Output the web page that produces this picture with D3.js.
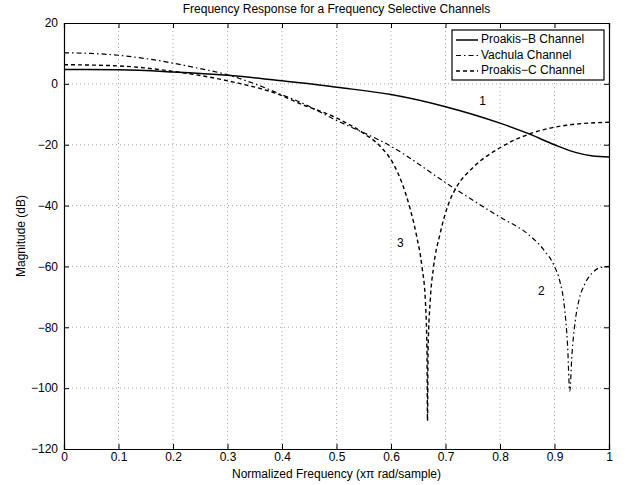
<!DOCTYPE html>
<html>
<head>
<meta charset="utf-8">
<script src="https://cdn.jsdelivr.net/npm/d3@7"></script>
<style>
  body { margin: 0; background: #fff; }
  svg { font-family: "Liberation Sans", Arial, sans-serif; }
</style>
</head>
<body>
<script>
'use strict';

// valores (freq normalizada, magnitude em dB)
const freqB = [0, 0.1, 0.2, 0.3, 0.4, 0.433, 0.5, 0.6, 0.7, 0.8, 0.85, 0.9, 0.94, 0.97, 1.0]
const magB  = [4.7, 4.6, 3.9, 2.8, 1.0, 0.4, -1.1, -3.5, -7.5, -12.9, -16.2, -20.0, -22.6, -23.7, -24.0]

const freqV = [0, 0.05, 0.1, 0.15, 0.2, 0.25, 0.3, 0.35, 0.4, 0.433, 0.5, 0.6, 0.708, 0.8, 0.85, 0.88, 0.9, 0.91, 0.918, 0.924, 0.928, 0.932, 0.938, 0.945, 0.955, 0.97, 0.985, 1.0]
const magV  = [10.2, 10.0, 9.4, 8.3, 6.8, 5.0, 3.0, 0.0, -3.6, -6.0, -12.0, -20.5, -33.4, -43.8, -49.2, -54.5, -60.0, -65.0, -73.0, -86.0, -101.0, -89.0, -78.0, -71.0, -66.0, -62.0, -60.3, -60.0]

const freqC = [0, 0.1, 0.2, 0.3, 0.4, 0.433, 0.5, 0.55, 0.58, 0.605, 0.62, 0.635, 0.647, 0.657, 0.663, 0.666, 0.667, 0.668, 0.672, 0.678, 0.69, 0.708, 0.72, 0.751, 0.8, 0.855, 0.922, 1.0]
const magC  = [6.3, 5.9, 4.1, 1.0, -3.9, -6.5, -11.2, -16.3, -20.5, -26.5, -32.5, -41.0, -50.0, -60.3, -71.2, -87.7, -110.7, -87.7, -71.2, -60.3, -49.3, -38.3, -34.0, -27.4, -21.0, -16.4, -13.6, -12.6]

const ticksX = [0, 0.1, 0.2, 0.3, 0.4, 0.5, 0.6, 0.7, 0.8, 0.9, 1]
const ticksY = [20, 0, -20, -40, -60, -80, -100, -120]

const nomesCanais = ['Proakis\u2212B Channel', 'Vachula Channel', 'Proakis\u2212C Channel']
const rotulosCurvas = [
    {texto: '1', f: 0.768, db: -6.0},
    {texto: '2', f: 0.876, db: -68.5},
    {texto: '3', f: 0.617, db: -52.5}
]

const largura = 630, altura = 485
const margem = {esq: 64, dir: 21, topo: 23, base: 36}

const svg = d3.select('body').append('svg')
    .attr('width', largura)
    .attr('height', altura)

const escalaX = d3.scaleLinear().domain([0, 1]).range([margem.esq, largura - margem.dir])
const escalaY = d3.scaleLinear().domain([-120, 20]).range([altura - margem.base, margem.topo])

const fmt = v => String(v).replace('-', '\u2212')

// grade pontilhada
const grade = svg.append('g')
grade.selectAll('line.gx').data(ticksX.slice(1, -1)).enter().append('line')
    .attr('x1', d => escalaX(d)).attr('x2', d => escalaX(d))
    .attr('y1', escalaY(20)).attr('y2', escalaY(-120))
grade.selectAll('line.gy').data(ticksY.slice(1, -1)).enter().append('line')
    .attr('x1', escalaX(0)).attr('x2', escalaX(1))
    .attr('y1', d => escalaY(d)).attr('y2', d => escalaY(d))
grade.selectAll('line')
    .attr('stroke', '#aaa')
    .attr('stroke-width', 1)
    .attr('stroke-dasharray', '1,3')

// eixos com ticks para dentro
const eixoBaixo = d3.axisBottom(escalaX).tickValues(ticksX).tickSize(-5).tickPadding(3).tickFormat(fmt)
const eixoCima = d3.axisTop(escalaX).tickValues(ticksX).tickSize(-5).tickFormat('')
const eixoEsq = d3.axisLeft(escalaY).tickValues(ticksY).tickSize(-5).tickPadding(6).tickFormat(fmt)
const eixoDir = d3.axisRight(escalaY).tickValues(ticksY).tickSize(-5).tickFormat('')

svg.append('g').attr('transform', `translate(0,${escalaY(-120)})`).call(eixoBaixo)
svg.append('g').attr('transform', `translate(0,${escalaY(20)})`).call(eixoCima)
svg.append('g').attr('transform', `translate(${escalaX(0)},0)`).call(eixoEsq)
svg.append('g').attr('transform', `translate(${escalaX(1)},0)`).call(eixoDir)

svg.selectAll('.domain').attr('stroke', '#000').attr('stroke-width', 1.2)
svg.selectAll('.tick line').attr('stroke', '#000')
svg.selectAll('.tick text').attr('font-size', 12).attr('fill', '#000')
    .attr('font-family', '"Liberation Sans", Arial, sans-serif')

// curvas
const linha = d3.line()
    .x(d => escalaX(d[0]))
    .y(d => escalaY(d[1]))
    .curve(d3.curveMonotoneX)

const series = [
    {f: freqB, m: magB, traco: null, w: 1.5},
    {f: freqV, m: magV, traco: '5,3,1.5,3', w: 1.2},
    {f: freqC, m: magC, traco: '4,3', w: 1.4}
]

for (let s of series) {
    svg.append('path')
        .datum(s.f.map((f, i) => [f, s.m[i]]))
        .attr('d', linha)
        .attr('fill', 'none')
        .attr('stroke', '#000')
        .attr('stroke-width', s.w)
        .attr('stroke-dasharray', s.traco)
}

// rotulos das curvas
svg.selectAll('text.rot').data(rotulosCurvas).enter().append('text')
    .attr('x', d => escalaX(d.f))
    .attr('y', d => escalaY(d.db))
    .attr('text-anchor', 'middle')
    .attr('dominant-baseline', 'middle')
    .attr('font-size', 12)
    .text(d => d.texto)

// legenda
const leg = svg.append('g').attr('transform', 'translate(452,30)')
leg.append('rect')
    .attr('width', 152).attr('height', 50)
    .attr('fill', '#fff').attr('stroke', '#000').attr('stroke-width', 1.2)
nomesCanais.forEach((nome, i) => {
    const y = 10 + i * 15.5
    leg.append('line')
        .attr('x1', 4).attr('x2', 26).attr('y1', y).attr('y2', y)
        .attr('stroke', '#000')
        .attr('stroke-width', series[i].w)
        .attr('stroke-dasharray', series[i].traco)
    leg.append('text')
        .attr('x', 29).attr('y', y)
        .attr('dominant-baseline', 'middle')
        .attr('font-size', 12)
        .text(nome)
})

// titulos
svg.append('text')
    .attr('x', (escalaX(0) + escalaX(1)) / 2).attr('y', 13)
    .attr('text-anchor', 'middle').attr('font-size', 12)
    .text('Frequency Response for a Frequency Selective Channels')

svg.append('text')
    .attr('x', (escalaX(0) + escalaX(1)) / 2).attr('y', 478)
    .attr('text-anchor', 'middle').attr('font-size', 12)
    .text('Normalized Frequency (x\u03c0 rad/sample)')

svg.append('text')
    .attr('transform', `translate(25,${(escalaY(20) + escalaY(-120)) / 2}) rotate(-90)`)
    .attr('text-anchor', 'middle').attr('font-size', 12)
    .text('Magnitude (dB)')
</script>
</body>
</html>
